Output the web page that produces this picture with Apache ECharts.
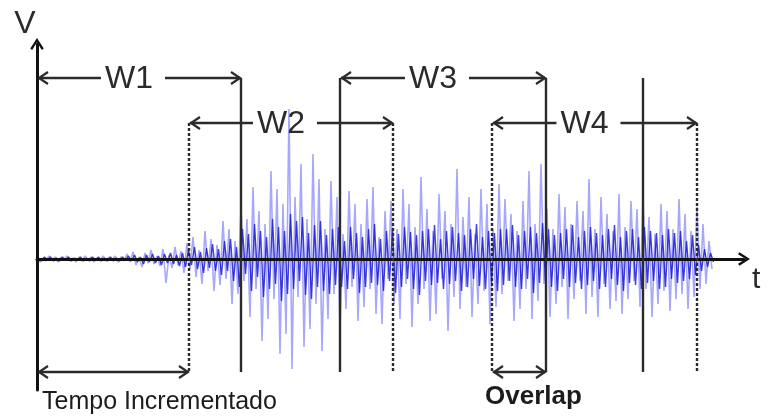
<!DOCTYPE html>
<html lang="pt">
<head>
  <meta charset="UTF-8">
  <title>Janelas</title>
  <script src="https://cdn.jsdelivr.net/npm/echarts@6/dist/echarts.min.js"></script>
</head>
<body style="margin:0;background:#fff">
<div id="main" style="width:771px;height:419px;"></div>
<script>
  // sinal (picos, uma amostra a cada 3 unidades de t)
  const signalStep = 3
  const signal = [
    2, -3, 1, -2, 3, -1, 2, -3, 2, -1, 3, -2, 1, -3, 2, -2, 3, -1, 2, -3,
    1, -2, 3, -2, 2, -1, 3, -3, 2, -2,
    5, -3, 7, -6, 2, -8, 6, -4, 9, -5, 3, -7, 10, -24, 4, -9, 12, -6, 8, -14,
    16, -10, 22, -18, 9, -25, 28, -12, 20, -32, 14, -26, 38, -20, 30,
    -45, 18, -35, 52, -22, 40, -58, 72, -30, 48,
    -82, 35, -60, 88, -40, 70, -95, 55, -75, 150,
    -110, 62, -38, 95, -88, 40, -70, 105, -45, 80,
    -92, 30, -60, 78, -35, 62,
    -70, 25, -50, 68, -28, 55, -62, 35, -48, 60,
    -30, 72, -55, 22, -65, 48, -20, 58, -45, 30, -60,
    70, -25, 55, -68, 32, -45, 82, -30, 50, -62,
    28, -55, 65, -20, 48, -72, 35, -38, 90, -50,
    42, -28, 62, -58, 25, -45, 70, -32, 55, -65, 30, -48, 75,
    -35, 60, -22, 45, -62, 28, -50, 58, -30, 88,
    -60, 35, -42, 95, -25, 50, -58, 30, -45, 65,
    -28, 52, -60, 35, -40, 58, -22, 48, -55, 80,
    -38, 30, -58, 62, -25, 45, -50, 28, -42, 65,
    -55, 32, -40, 58, -22, 50, -48, 62, -30, 42,
    -58, 25, -45, 55, -32, 48, -52, 30, -40, 60,
    -35, 45, -50, 28, -38, 52, -30, 35, -25, 18, -10
  ]
  // parte densa do sinal perto do eixo (amostras intercaladas)
  const coreStep = 3
  const core = [
    1, -2, 2, -1, 2, -2, 1, -2, 2, -1, 2, -2, 1, -1, 2, -2, 1, -2, 2, -1,
    2, -2, 1, -2, 2, -2, 1, -2, 2, -1,
    3, -2, 4, -3, 2, -5, 4, -3, 5, -4, 3, -6, 5, -4, 6, -5, 4, -7, 6, -8,
    9, -6, 12, -10, 7, -14, 11, -9, 15, -12, 10, -16, 18, -12, 20,
    -22, 12, -28, 30, -15, 25, -32, 35, -18, 28, -38, 22, -30, 40, -25, 32, -42, 28, -35, 45,
    -30, 38, -22, 42, -36, 26, -40, 34, -28, 38, -32, 24, -35, 30, -26, 32,
    -28, 18, -30, 32, -20, 26, -34, 22, -28, 30, -24, 35, -26, 20, -32, 28, -22, 30, -34, 25,
    -28, 32, -20, 27, -30, 24, -36, 28, -22, 30, -26, 34, -24, 20, -30, 28, -25, 32, -22, 26,
    -32, 24, -28, 30, -20, 35, -27, 22, -30, 28, -24, 26, -32, 30,
    -26, 30, -22, 34, -28, 24, -30, 28, -20, 32, -34, 26, -24, 36, -22, 30, -28, 24, -32, 26,
    -20, 30, -28, 34, -24, 22, -30, 28, -26, 32, -22, 26, -30, 24, -28, 30, -20, 34, -26, 22,
    -32, 28, -24, 30, -26, 22, -30, 32, -24, 28, -22, 26, -30, 24, -28, 30, -20, 26, -24, 28,
    -22, 18, -20, 24, -16, 14, -12, 10, -8, 6, -3
  ]
  const windowNames = ['W1', 'W2', 'W3', 'W4']
  const windowStart = [0, 152, 303, 455]
  const windowEnd = [204, 356, 509, 660]
  const nextWindowStart = [606]
  const spanNames = ['Tempo Incrementado', 'Overlap']
  const spanStart = [0, 455]
  const spanEnd = [152, 509]

  const ink = '#2b2b2b'
  const font = "'Liberation Sans', Arial, sans-serif"
  const topRow = 181
  const lowRow = 136
  const floor = -113

  function chevron(x, y, dir) {
    return {
      type: 'polyline',
      shape: {points: [[x - dir * 9, y - 6], [x, y], [x - dir * 9, y + 6]]},
      style: {stroke: ink, lineWidth: 2.2, fill: null}
    }
  }

  function line(x1, y1, x2, y2, dashed) {
    return {
      type: 'line',
      shape: {x1, y1, x2, y2},
      style: {stroke: ink, lineWidth: 2.4, lineDash: dashed ? [3, 2] : null}
    }
  }

  function renderWindow(params, api) {
    const i = params.dataIndex
    const dashed = i % 2 === 1
    const level = dashed ? lowRow : topRow
    const a = api.coord([api.value(0), level])
    const b = api.coord([api.value(1), level])
    const bottom = api.coord([api.value(1), floor])[1]
    const cx = (a[0] + b[0]) / 2 - 10
    const children = []
    if (api.value(0) > 0) children.push(line(a[0], a[1], a[0], bottom, dashed))
    children.push(line(b[0], b[1], b[0], bottom, dashed))
    children.push(line(a[0] + 1, a[1], cx - 28, a[1]), line(cx + 36, b[1], b[0] - 1, b[1]))
    children.push(chevron(a[0] + 2, a[1], -1), chevron(b[0] - 1, b[1], 1))
    children.push({
      type: 'text',
      style: {text: windowNames[i], x: cx, y: a[1] + 1, align: 'center', verticalAlign: 'middle',
        font: '32px ' + font, fill: ink}
    })
    return {type: 'group', children}
  }

  function renderNext(params, api) {
    const a = api.coord([api.value(0), topRow])
    const b = api.coord([api.value(0), floor])
    return line(a[0], a[1], b[0], b[1], false)
  }

  function renderSpan(params, api) {
    const i = params.dataIndex
    const a = api.coord([api.value(0), floor])
    const b = api.coord([api.value(1), floor])
    const bold = i === 1
    return {
      type: 'group',
      children: [
        line(a[0] + 1, a[1], b[0] - 1, b[1]),
        chevron(a[0] + 2, a[1], -1),
        chevron(b[0] - 1, b[1], 1),
        {
          type: 'text',
          style: {
            text: spanNames[i], x: bold ? a[0] - 7 : a[0] + 5, y: a[1] + (bold ? 25 : 30),
            align: 'left', verticalAlign: 'middle',
            font: (bold ? 'bold 26px ' : '25px ') + font, fill: '#1c1c1c'
          }
        }
      ]
    }
  }

  const arrowHead = 'path://M0,11 L7,0 L14,11 L12,12.5 L7,4.5 L2,12.5 Z'

  const chart = echarts.init(document.getElementById('main'))
  chart.setOption({
    animation: false,
    grid: {left: 37, right: 27, top: 44, bottom: 29},
    xAxis: {
      type: 'value', min: 0, max: 707, z: 10,
      name: 't', nameLocation: 'end', nameGap: 8,
      nameTextStyle: {fontFamily: font, fontSize: 30, color: ink, align: 'left', verticalAlign: 'top', padding: [6, 0, 0, 0]},
      axisLine: {onZero: true, symbol: ['none', arrowHead], symbolSize: [14, 12], lineStyle: {color: '#111', width: 3}},
      axisTick: {show: false}, axisLabel: {show: false}, splitLine: {show: false}
    },
    yAxis: {
      type: 'value', min: -131, max: 215, z: 10,
      name: 'V', nameLocation: 'end', nameGap: 4,
      nameTextStyle: {fontFamily: font, fontSize: 32, color: ink, align: 'center', padding: [0, 24, 0, 0]},
      axisLine: {onZero: true, symbol: ['none', arrowHead], symbolSize: [14, 12], lineStyle: {color: '#111', width: 3}},
      axisTick: {show: false}, axisLabel: {show: false}, splitLine: {show: false}
    },
    series: [
      {
        type: 'line', showSymbol: false, z: 2,
        data: signal.map((v, i) => [i * signalStep, v]),
        lineStyle: {color: 'rgba(80,80,250,0.5)', width: 1.6}
      },
      {
        type: 'line', showSymbol: false, z: 3,
        data: core.map((v, i) => [i * coreStep + coreStep / 2, v]),
        lineStyle: {color: 'rgba(15,15,210,0.8)', width: 1.4}
      },
      {
        type: 'custom', z: 20, clip: false,
        data: windowStart.map((s, i) => [s, windowEnd[i]]),
        encode: {x: [0, 1]},
        renderItem: renderWindow
      },
      {
        type: 'custom', z: 20, clip: false,
        data: nextWindowStart.map(s => [s]),
        encode: {x: 0},
        renderItem: renderNext
      },
      {
        type: 'custom', z: 20, clip: false,
        data: spanStart.map((s, i) => [s, spanEnd[i]]),
        encode: {x: [0, 1]},
        renderItem: renderSpan
      }
    ]
  })
</script>
</body>
</html>
